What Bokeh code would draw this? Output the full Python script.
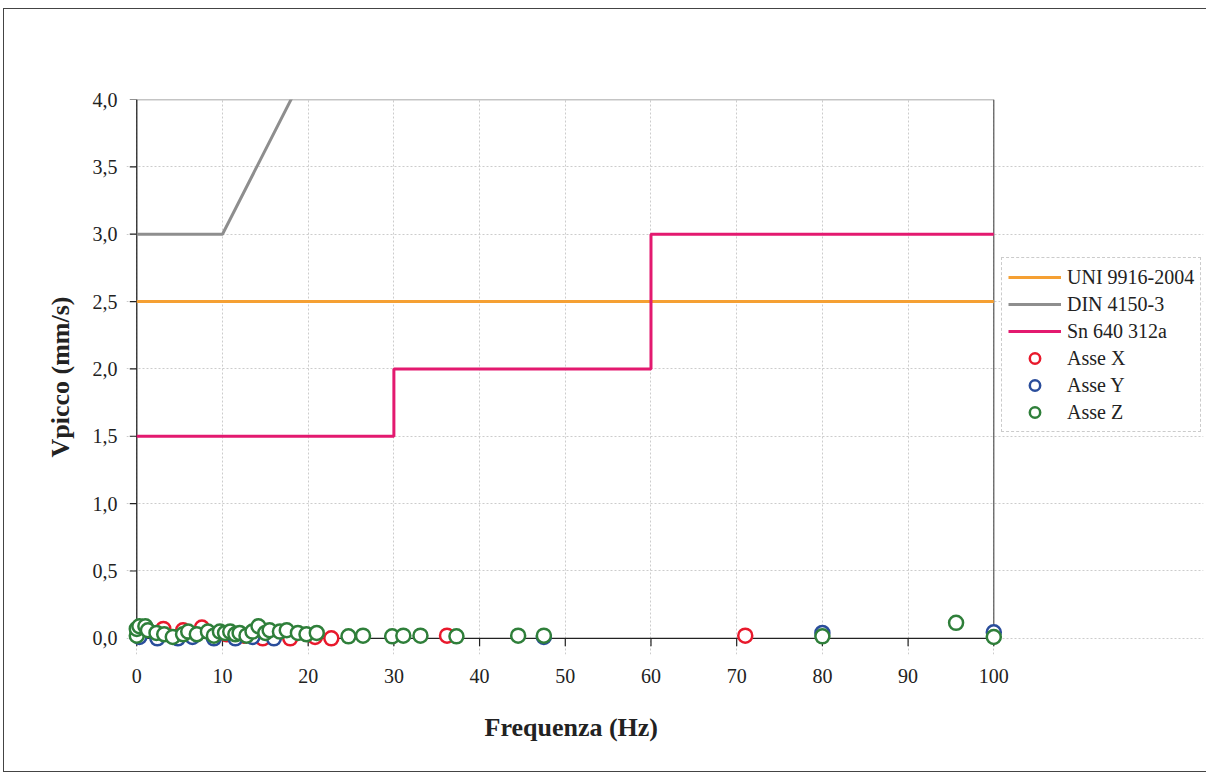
from bokeh.plotting import figure
from bokeh.models import Range1d, FixedTicker, CustomJSTickFormatter, Legend, LegendItem, Title
from bokeh.embed import file_html
from bokeh.resources import INLINE

# ---- data ----
uni_x = [0, 100]
uni_y = [2.5, 2.5]

din_x = [0, 10, 50, 100]
din_y = [3.0, 3.0, 8.0, 10.0]

sn_x = [0, 30, 30, 60, 60, 100]
sn_y = [1.5, 1.5, 2.0, 2.0, 3.0, 3.0]

asse_x_f = [0.5, 3.1, 5.4, 7.6, 10.5, 12.5, 14.7, 17.9, 20.8, 22.7, 36.2, 71.0]
asse_x_v = [0.04, 0.07, 0.06, 0.08, 0.03, 0.02, 0.0, 0.0, 0.01, 0.0, 0.02, 0.02]

asse_y_f = [0.3, 2.4, 4.8, 6.5, 9.0, 11.5, 13.5, 16.0, 47.5, 80.0, 100.0]
asse_y_v = [0.01, 0.0, 0.0, 0.01, 0.0, 0.0, 0.01, 0.0, 0.01, 0.04, 0.045]

asse_z_f = [0.0, 0.0, 0.3, 1.0, 1.3, 2.3, 3.2, 4.2, 5.4, 6.0, 7.0, 8.3, 9.0, 9.7,
            10.3, 10.9, 11.5, 12.0, 12.8, 13.5, 14.2, 15.0, 15.5, 16.7, 17.5, 18.8,
            19.8, 21.0, 24.7, 26.4, 29.8, 31.1, 33.1, 37.3, 44.5, 47.5, 80.0, 95.6, 100.0]
asse_z_v = [0.02, 0.07, 0.09, 0.09, 0.06, 0.04, 0.03, 0.01, 0.03, 0.05, 0.03, 0.05, 0.02, 0.05,
            0.04, 0.05, 0.03, 0.04, 0.02, 0.05, 0.09, 0.04, 0.06, 0.05, 0.06, 0.04,
            0.03, 0.04, 0.015, 0.02, 0.015, 0.02, 0.02, 0.015, 0.02, 0.02, 0.015, 0.115, 0.01]

x_ticks = [0, 10, 20, 30, 40, 50, 60, 70, 80, 90, 100]
y_ticks = [0.0, 0.5, 1.0, 1.5, 2.0, 2.5, 3.0, 3.5, 4.0]

FONT = "Liberation Serif"
INK = "#222222"

# the frame is widened to the right so that the legend (inside it) is not clipped
p = figure(width=1203, height=764, output_backend="svg", toolbar_location=None,
           x_range=Range1d(-1.2, 124.47), y_range=Range1d(-0.12, 4.0),
           min_border_left=122, min_border_right=4, min_border_top=90, min_border_bottom=119,
           styles={"border-left": "1.5px solid #444", "border-top": "1.5px solid #444",
                   "border-bottom": "1.5px solid #444", "border-right": "none",
                   "margin-top": "8px", "margin-left": "3px"})
p.outline_line_color = None
p.background_fill_color = "white"
p.border_fill_color = "white"

for ax in (p.xaxis[0], p.yaxis[0]):
    ax.axis_line_color = None
    ax.major_tick_line_color = None
    ax.minor_tick_line_color = None
    ax.major_label_text_font = FONT
    ax.major_label_text_font_size = "20px"
    ax.major_label_text_color = INK
    ax.axis_label_text_font = FONT
    ax.axis_label_text_font_size = "26px"
    ax.axis_label_text_font_style = "bold"
    ax.axis_label_text_color = INK

xa = p.xaxis[0]
xa.ticker = FixedTicker(ticks=x_ticks)
xa.bounds = (x_ticks[0], x_ticks[-1])
xa.major_tick_in = 0
xa.major_tick_out = 0
xa.major_label_standoff = 14

ya = p.yaxis[0]
ya.ticker = FixedTicker(ticks=y_ticks)
ya.bounds = (y_ticks[0], y_ticks[-1])
ya.major_tick_in = 0
ya.major_tick_out = 0
ya.major_label_standoff = 9
ya.formatter = CustomJSTickFormatter(code="return tick.toFixed(1).replace('.', ',');")
ya.axis_label = "Vpicco (mm/s)"
ya.axis_label_standoff = 15

# x-axis title, centred under the 0-100 part of the frame
p.add_layout(Title(text="Frequenza (Hz)", align="left", offset=358,
                   text_font=FONT, text_font_size="26px", text_font_style="bold",
                   text_color=INK, standoff=50), "below")

p.xgrid.ticker = FixedTicker(ticks=x_ticks)
p.ygrid.ticker = FixedTicker(ticks=y_ticks)
p.xgrid.bounds = (y_ticks[0], y_ticks[-1])
p.ygrid.bounds = (x_ticks[0], x_ticks[-1])
for g in (p.xgrid[0], p.ygrid[0]):
    g.grid_line_color = "#cccccc"
    g.grid_line_dash = "2 2"
    g.grid_line_width = 1

# plot-area border lines (axes at 0, top at 4, right at 100)
x0, x1 = x_ticks[0], x_ticks[-1]
y0, y1 = y_ticks[0], y_ticks[-1]
p.line([x0, x1], [y1, y1], line_color="#8a8a8a", line_width=1.5)
p.line([x1, x1], [y0, y1], line_color="#555555", line_width=1.2)
p.line([x0, x0], [y0, y1], line_color=INK, line_width=1.3)
p.line([x0, x1], [y0, y0], line_color=INK, line_width=1.3)

# outward tick marks at the tick positions (8 px below the x axis, 7 px left of the y axis)
XT = 8 / 134.75
YT = 7 / 8.57
p.segment(x0=x_ticks, y0=[y0] * len(x_ticks), x1=x_ticks, y1=[y0 - XT] * len(x_ticks),
          line_color=INK, line_width=1.2)
p.segment(x0=[x0] * len(y_ticks), y0=y_ticks, x1=[x0 - YT] * len(y_ticks), y1=y_ticks,
          line_color=INK, line_width=1.2)

# limit lines
r_uni = p.line(uni_x, uni_y, line_color="#F5A033", line_width=3)
r_din = p.line(din_x, din_y, line_color="#8E8E8E", line_width=3)
r_sn = p.line(sn_x, sn_y, line_color="#E3196F", line_width=3)

# measured points
r_x = p.scatter(asse_x_f, asse_x_v, marker="circle", size=14, fill_color="white",
                line_color="#E8192C", line_width=2.5)
r_y = p.scatter(asse_y_f, asse_y_v, marker="circle", size=14, fill_color="white",
                line_color="#2A4D9B", line_width=2.5)
r_z = p.scatter(asse_z_f, asse_z_v, marker="circle", size=14, fill_color="white",
                line_color="#2F7F3A", line_width=2.5)

legend = Legend(items=[
    LegendItem(label="UNI 9916-2004", renderers=[r_uni]),
    LegendItem(label="DIN 4150-3", renderers=[r_din]),
    LegendItem(label="Sn 640 312a", renderers=[r_sn]),
    LegendItem(label="Asse X", renderers=[r_x]),
    LegendItem(label="Asse Y", renderers=[r_y]),
    LegendItem(label="Asse Z", renderers=[r_z]),
], location=(875, 222))
legend.label_text_font = FONT
legend.label_text_font_size = "20px"
legend.label_text_color = INK
legend.glyph_width = 53
legend.glyph_height = 26
legend.label_height = 26
legend.spacing = 1
legend.padding = 6
legend.margin = 0
legend.label_standoff = 6
legend.border_line_color = "#999999"
legend.border_line_dash = "1 1"
legend.border_line_width = 1
legend.background_fill_color = "white"
legend.background_fill_alpha = 1
p.add_layout(legend, "center")

open("out.html", "w").write(file_html(p, INLINE))
